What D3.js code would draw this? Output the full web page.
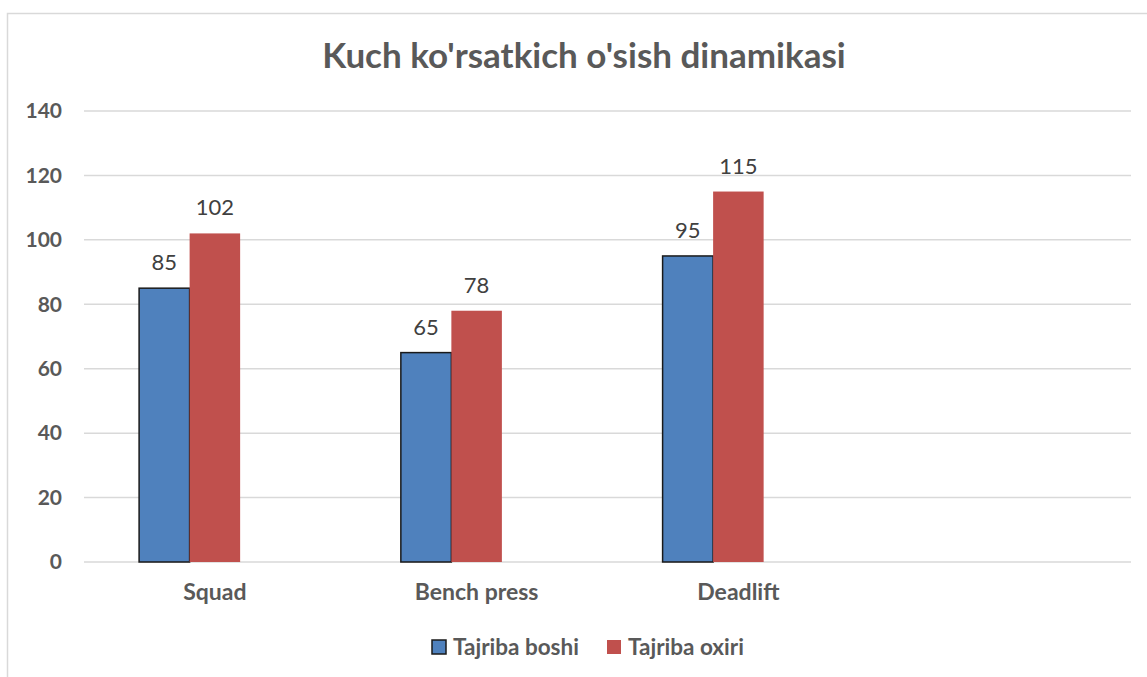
<!DOCTYPE html>
<html>
<head>
<meta charset="utf-8">
<script src="https://cdn.jsdelivr.net/npm/d3@7"></script>
<style>
  body { margin: 0; background: #fff; }
  svg { display: block; font-family: Lato, "Open Sans", sans-serif; }
</style>
</head>
<body>
<svg id="chart" width="1147" height="677"></svg>
<script>
// chart data
const categories = ['Squad', 'Bench press', 'Deadlift', ''];
const seriesNames = ['Tajriba boshi', 'Tajriba oxiri'];
const startValues = [85, 65, 95, null];
const endValues = [102, 78, 115, null];
const yTicks = [0, 20, 40, 60, 80, 100, 120, 140];
const title = "Kuch ko'rsatkich o'sish dinamikasi";

const colors = ['#4F81BD', '#C0504D'];
const slots = 3; // excel reserves a third (empty) series slot

const svg = d3.select('#chart');
const w = 1147, h = 677;

// chart border (clipped at right / bottom like the screenshot)
svg.append('rect')
    .attr('x', 7.5).attr('y', 13.5)
    .attr('width', 1300).attr('height', 800)
    .attr('fill', 'none')
    .attr('stroke', '#D9D9D9')
    .attr('stroke-width', 1.5);

svg.append('text')
    .attr('x', 584).attr('y', 68)
    .attr('text-anchor', 'middle')
    .attr('font-size', 35)
    .attr('font-weight', 'bold')
    .attr('fill', '#595959')
    .text(title);

const xScale = d3.scaleBand()
    .domain(categories.map((c, i) => i))
    .range([84, 1131]);

const groupW = xScale.bandwidth() * 0.579;
const xSub = d3.scaleBand()
    .domain(d3.range(slots))
    .range([0, groupW]);

const yScale = d3.scaleLinear()
    .domain([0, 140])
    .range([562, 111]);

// gridlines
svg.append('g')
  .selectAll('line')
  .data(yTicks)
  .enter()
  .append('line')
    .attr('x1', 84).attr('x2', 1131)
    .attr('y1', d => yScale(d)).attr('y2', d => yScale(d))
    .attr('stroke', '#D9D9D9')
    .attr('stroke-width', 1.5);

const yAxis = d3.axisLeft(yScale).tickValues(yTicks).tickSize(0).tickPadding(0);
const gy = svg.append('g')
    .attr('transform', 'translate(62,0)')
    .call(yAxis);
gy.select('.domain').remove();
gy.selectAll('text')
    .attr('font-family', 'Lato, "Open Sans", sans-serif')
    .attr('font-size', 21)
    .attr('font-weight', 'bold')
    .attr('fill', '#595959');

const series = [startValues, endValues];
series.forEach((vals, s) => {
  const g = svg.append('g');
  const data = vals.map((v, i) => ({ i, v })).filter(d => d.v != null);
  const bx = d => xScale(d.i) + (xScale.bandwidth() - groupW) / 2 + xSub(s);
  g.selectAll('rect')
    .data(data)
    .enter()
    .append('rect')
      .attr('x', bx)
      .attr('y', d => yScale(d.v))
      .attr('width', xSub.bandwidth())
      .attr('height', d => yScale(0) - yScale(d.v))
      .attr('fill', colors[s])
      .attr('stroke', s === 0 ? '#1a1a1a' : 'none')
      .attr('stroke-width', 1.5);
  g.selectAll('text')
    .data(data)
    .enter()
    .append('text')
      .attr('x', d => bx(d) + xSub.bandwidth() / 2)
      .attr('y', d => yScale(d.v) - 18)
      .attr('text-anchor', 'middle')
      .attr('font-size', 22)
      .attr('fill', '#404040')
      .text(d => d.v);
});

// category labels
svg.append('g')
  .selectAll('text')
  .data(categories)
  .enter()
  .append('text')
    .attr('x', (d, i) => xScale(i) + xScale.bandwidth() / 2)
    .attr('y', 600)
    .attr('text-anchor', 'middle')
    .attr('font-size', 23)
    .attr('font-weight', 'bold')
    .attr('fill', '#595959')
    .text(d => d);

// legend
const legendX = [432, 607];
const legend = svg.append('g');
seriesNames.forEach((name, s) => {
  legend.append('rect')
      .attr('x', legendX[s]).attr('y', 640)
      .attr('width', 14).attr('height', 14)
      .attr('fill', colors[s])
      .attr('stroke', s === 0 ? '#1a1a1a' : 'none')
      .attr('stroke-width', 1.5);
  legend.append('text')
      .attr('x', legendX[s] + 21).attr('y', 655)
      .attr('font-size', 22.5)
      .attr('font-weight', 'bold')
      .attr('fill', '#595959')
      .text(name);
});
</script>
</body>
</html>
